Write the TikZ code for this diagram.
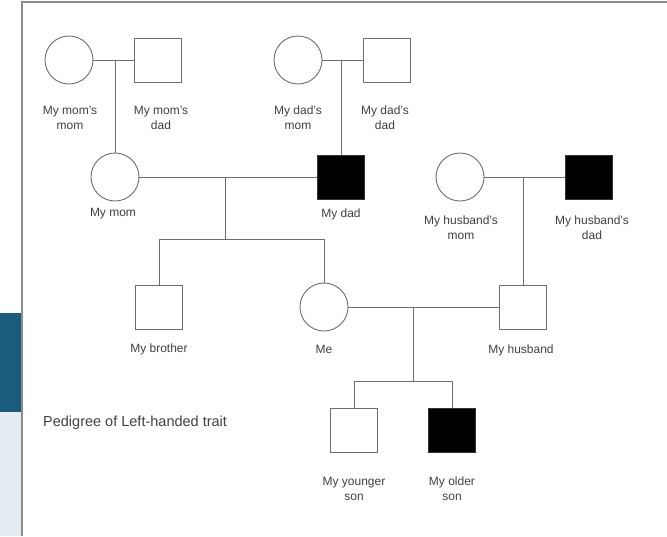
\documentclass[tikz,border=0pt]{standalone}
\usepackage{fontspec}
\setmainfont{Liberation Sans}
\definecolor{framegray}{HTML}{8C8C8C}
\definecolor{linegray}{HTML}{6E6E6E}
\definecolor{txtgray}{HTML}{404040}
\definecolor{barblue}{HTML}{1B5B7D}
\definecolor{barlight}{HTML}{E3ECF0}
\begin{document}
\begin{tikzpicture}[x=1pt,y=-1pt,
  female/.style={circle,draw=linegray,line width=0.9pt,minimum size=48pt,inner sep=0pt,fill=white},
  male/.style={rectangle,draw=linegray,line width=0.9pt,minimum width=47pt,minimum height=44pt,inner sep=0pt,fill=white},
  affected/.style={fill=black,draw=black!80},
  lbl/.style={font=\fontsize{12}{15}\selectfont,text=txtgray,align=center,inner sep=0pt},
  link/.style={draw=linegray,line width=0.9pt}]
\useasboundingbox (0,0) rectangle (667,536);
\fill[white] (0,0) rectangle (667,536);
% side bar
\fill[barblue] (0,312.5) rectangle (21,411.5);
\fill[barlight] (0,411.5) rectangle (21,536);
% frame
\draw[framegray,line width=1.6pt] (22,536) -- (22,2) -- (667,2);

% nodes
\node[female] (mm) at (69,60) {};
\node[male] (md) at (158,60) {};
\node[female] (dm) at (298,60) {};
\node[male] (dd) at (387,60) {};
\node[female] (mom) at (115,177) {};
\node[male,affected] (dad) at (341,177) {};
\node[female] (hm) at (460,177) {};
\node[male,affected] (hd) at (589,177) {};
\node[male] (bro) at (159,307) {};
\node[female] (me) at (324,307) {};
\node[male] (hus) at (523,307) {};
\node[male] (ys) at (354,430) {};
\node[male,affected] (os) at (452,430) {};

% labels
\node[lbl] (lmm) at (70,117.5) {My mom's\\mom};
\node[lbl] (lmd) at (161,117.5) {My mom's\\dad};
\node[lbl] (ldm) at (298,117.5) {My dad's\\mom};
\node[lbl] (ldd) at (385,117.5) {My dad's\\dad};
\node[lbl] (lmom) at (113,214) {My mom};
\node[lbl] (ldad) at (341,214) {My dad};
\node[lbl] (lhm) at (461,227.5) {My husband's\\mom};
\node[lbl] (lhd) at (592,227.5) {My husband's\\dad};
\node[lbl] (lbro) at (159,349.5) {My brother};
\node[lbl] (lme) at (324,349.5) {Me};
\node[lbl] (lhus) at (521,350) {My husband};
\node[lbl] (lys) at (354,489) {My younger\\son};
\node[lbl] (los) at (452,489) {My older\\son};
\node[lbl,anchor=west,font=\fontsize{14.5}{17}\selectfont] (title) at (43,423) {Pedigree of Left-handed trait};

% junction coordinates
\coordinate (j1) at (115,60);
\coordinate (j2) at (341,60);
\coordinate (j3) at (225,177);
\coordinate (j3b) at (225,239);
\coordinate (s1) at (159,239);
\coordinate (s2) at (324,239);
\coordinate (j4) at (523,177);
\coordinate (j5) at (413,307);
\coordinate (j5b) at (413,381);
\coordinate (c1) at (354,381);
\coordinate (c2) at (452,381);

% connectors
\draw[link] (mm) -- (md);
\draw[link] (j1) -- (mom);
\draw[link] (dm) -- (dd);
\draw[link] (j2) -- (dad);
\draw[link] (mom) -- (dad);
\draw[link] (j3) -- (j3b);
\draw[link] (s1) -- (s2);
\draw[link] (s1) -- (bro);
\draw[link] (s2) -- (me);
\draw[link] (hm) -- (hd);
\draw[link] (j4) -- (hus);
\draw[link] (me) -- (hus);
\draw[link] (j5) -- (j5b);
\draw[link] (c1) -- (c2);
\draw[link] (c1) -- (ys);
\draw[link] (c2) -- (os);
\end{tikzpicture}
\end{document}
